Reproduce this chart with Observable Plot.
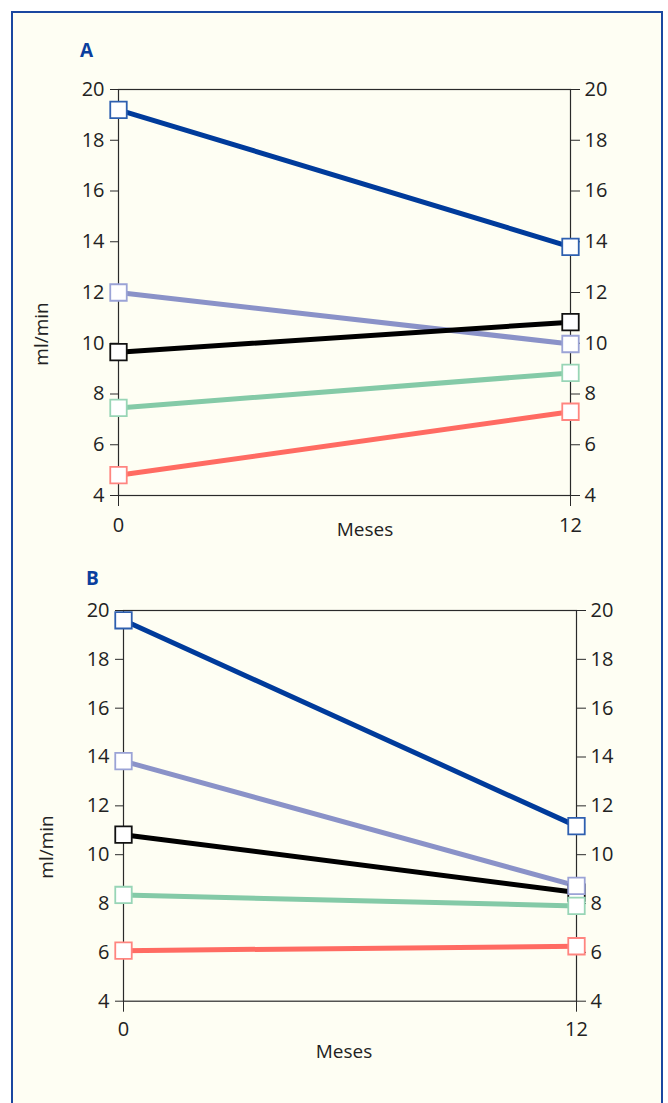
<!DOCTYPE html>
<html>
<head>
<meta charset="utf-8">
<script src="https://cdn.jsdelivr.net/npm/d3@7"></script>
<script src="https://cdn.jsdelivr.net/npm/@observablehq/plot@0.6"></script>
<style>
  html, body { margin: 0; padding: 0; background: #ffffff; }
  #page { position: relative; width: 668px; height: 1103px; overflow: hidden; font-family: "Open Sans", sans-serif; }
  #box { position: absolute; left: 11px; top: 11px; width: 648px; height: 1200px; border: 2.5px solid #1a47a0; background: #fefef3; }
  .panel { position: absolute; left: 0; }
  .panel svg { background: transparent !important; overflow: visible; }
  .panel svg text { font-size: 20px !important; font-family: "Open Sans", sans-serif !important; }
  .tag { position: absolute; font-family: "Open Sans", sans-serif; font-weight: 700; font-size: 19px; color: #0b3f9e; line-height: 1; }
  .lbl { position: absolute; font-family: "Open Sans", sans-serif; font-size: 19px; color: #222; line-height: 1; white-space: nowrap; transform: translate(-50%, -50%); }
  .lbl.rot { transform: translate(-50%, -50%) rotate(-90deg); }
</style>
</head>
<body>
<div id="page">
  <div id="box"></div>
  <div class="tag" style="left:80px; top:41px;">A</div>
  <div class="tag" style="left:86px; top:569px;">B</div>
  <div id="pA" class="panel" style="top:0px;"></div>
  <div id="pB" class="panel" style="top:520px;"></div>
  <div class="lbl" id="xA" style="left:365px; top:529px;"></div>
  <div class="lbl" id="xB" style="left:344px; top:1051px;"></div>
  <div class="lbl rot" id="yA" style="left:41px; top:334px;"></div>
  <div class="lbl rot" id="yB" style="left:46px; top:847px;"></div>
</div>
<script>
// ---- data ----
const months = [0, 12];
const seriesNames = ["serie 1", "serie 2", "serie 3", "serie 4", "serie 5"];
const yTicks = [4, 6, 8, 10, 12, 14, 16, 18, 20];
const panelAStart = [19.2, 12.0, 9.65, 7.45, 4.8];
const panelAEnd   = [13.8, 9.97, 10.83, 8.83, 7.3];
const panelBStart = [19.6, 13.83, 10.82, 8.35, 6.07];
const panelBEnd   = [11.17, 8.72, 8.45, 7.9, 6.25];
const xLabel = "Meses";
const yLabel = "ml/min";

// ---- styles ----
const lineColors   = ["#003b9b", "#8a92c8", "#000000", "#84caa7", "#ff6b62"];
const markerColors = ["#2e5fb0", "#9ba3d6", "#111111", "#98d5b6", "#ff8580"];
const drawOrder = [2, 0, 1, 4, 3];

for (const id of ["xA", "xB"]) document.getElementById(id).textContent = xLabel;
for (const id of ["yA", "yB"]) document.getElementById(id).textContent = yLabel;

function rows(start, end) {
  const out = [];
  seriesNames.forEach((s, i) => {
    out.push({series: s, idx: i, mes: months[0], v: start[i]});
    out.push({series: s, idx: i, mes: months[1], v: end[i]});
  });
  return out;
}

function panel(start, end, m) {
  const data = rows(start, end);
  const marks = [
    Plot.frame({stroke: "#2a2a2a", strokeWidth: 1.2}),
    Plot.axisY({anchor: "left", ticks: yTicks, tickSize: 8, tickPadding: 6, fontSize: 20, label: null, stroke: "#2a2a2a", fill: "#222"}),
    Plot.axisY({anchor: "right", ticks: yTicks, tickSize: 9, tickPadding: 5, fontSize: 20, label: null, stroke: "#2a2a2a", fill: "#222"}),
    Plot.axisX({anchor: "bottom", ticks: months, tickSize: 11, tickPadding: m.xPad, fontSize: 20, label: null, stroke: "#2a2a2a", fill: "#222"})
  ];
  seriesNames.forEach((s, i) => {
    marks.push(Plot.line(data.filter(d => d.idx === i), {x: "mes", y: "v", stroke: lineColors[i], strokeWidth: 5}));
  });
  drawOrder.forEach(i => {
    marks.push(Plot.dot(data.filter(d => d.idx === i), {x: "mes", y: "v", symbol: "square", r: 9.3, fill: "#ffffff", stroke: markerColors[i], strokeWidth: 1.8}));
  });
  return Plot.plot({
    width: 668,
    height: m.height,
    marginLeft: m.left,
    marginRight: m.right,
    marginTop: m.top,
    marginBottom: m.bottom,
    x: {domain: [0, 12], axis: null},
    y: {domain: [4, 20], axis: null},
    style: {fontFamily: "Open Sans, sans-serif", fontSize: "20px", color: "#222", background: "transparent", overflow: "visible"},
    marks
  });
}

document.getElementById("pA").append(panel(panelAStart, panelAEnd, {
  height: 560, left: 118, right: 98, top: 89, bottom: 65, xPad: 11
}));
document.getElementById("pB").append(panel(panelBStart, panelBEnd, {
  height: 583, left: 123, right: 92, top: 90, bottom: 102.3, xPad: 10
}));
</script>
</body>
</html>
